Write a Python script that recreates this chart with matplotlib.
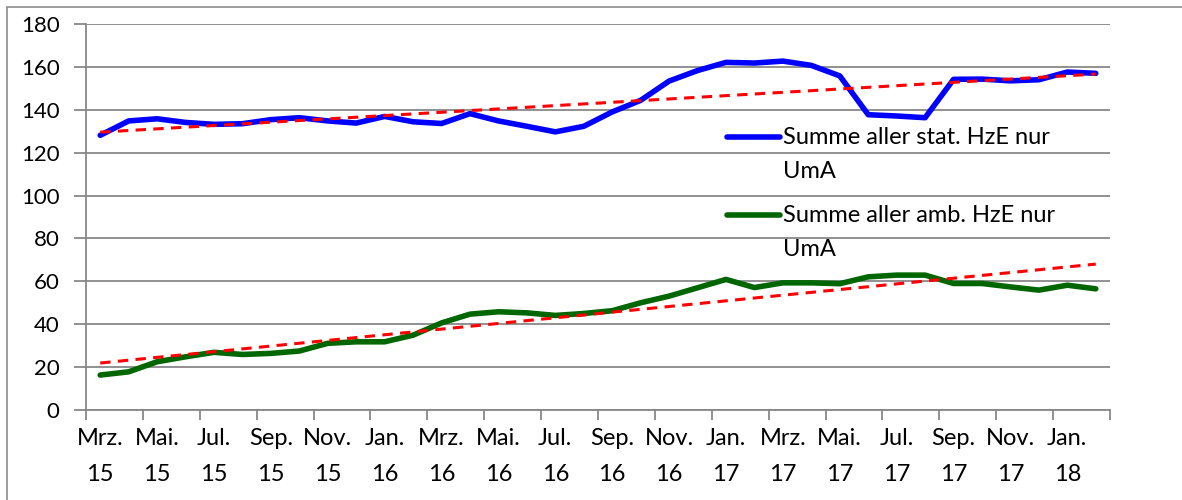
import matplotlib
matplotlib.use("Agg")
import matplotlib.pyplot as plt
import numpy as np
from matplotlib.patches import Rectangle
from matplotlib.lines import Line2D

plt.rcParams['font.family'] = ['Lato', 'DejaVu Sans']

# monthly values Mrz. 15 .. Feb. 18
stat = [128.1, 134.8, 135.8, 134.1, 133.2, 133.5, 135.4, 136.3, 134.8, 133.8,
        136.9, 134.4, 133.6, 138.2, 134.8, 132.3, 129.7, 132.3, 139.0, 144.4,
        153.4, 158.3, 162.1, 161.8, 162.7, 160.7, 155.8, 137.7, 137.1, 136.3,
        154.2, 154.3, 153.5, 154.0, 157.6, 157.0]
amb = [16.3, 17.8, 22.5, 24.8, 26.9, 25.9, 26.4, 27.5, 31.1, 31.8,
       31.8, 34.9, 40.6, 44.7, 45.8, 45.3, 44.1, 45.0, 46.3, 50.0,
       53.1, 57.0, 60.9, 57.1, 59.3, 59.3, 58.9, 62.1, 62.9, 62.9,
       59.0, 59.0, 57.4, 55.9, 58.2, 56.5]
tick_labels = ["Mrz.\n15", "Mai.\n15", "Jul.\n15", "Sep.\n15", "Nov.\n15", "Jan.\n16",
               "Mrz.\n16", "Mai.\n16", "Jul.\n16", "Sep.\n16", "Nov.\n16", "Jan.\n17",
               "Mrz.\n17", "Mai.\n17", "Jul.\n17", "Sep.\n17", "Nov.\n17", "Jan.\n18"]
label_stat = "Summe aller stat. HzE nur\nUmA"
label_amb = "Summe aller amb. HzE nur\nUmA"

blue = '#0000FF'
green = '#006600'
grid_c = '#888888'

x = np.arange(len(stat))

fig = plt.figure(figsize=(11.82, 5.0), dpi=100)
ax = fig.add_axes([86/1182, 1-410/500, 1024/1182, 386/500])

# outer chart frame
fig.patches.append(Rectangle((7/1182, -0.1), 1.2, 1.1-7/500, transform=fig.transFigure,
                             fill=False, edgecolor='#8c8c8c', lw=1.2))

ax.plot(x, stat, color=blue, lw=4.0, solid_joinstyle='round', solid_capstyle='round', zorder=3)
ax.plot(x, amb, color=green, lw=4.0, solid_joinstyle='round', solid_capstyle='round', zorder=3)

# linear trendlines
for s in (stat, amb):
    k, d = np.polyfit(x, s, 1)
    ax.plot(x, k*x + d, color='#FF0000', lw=2.2, dashes=(3.4, 2.4), zorder=4)

ax.set_xlim(-0.5, len(stat)-0.5)
ax.set_ylim(0, 180)
ax.set_yticks(np.arange(0, 181, 20))
ax.yaxis.grid(True, color=grid_c, lw=1.3)
ax.set_axisbelow(True)

ax.set_xticks(np.arange(0, len(stat), 2))
ax.set_xticklabels(tick_labels, linespacing=1.85)
ax.set_xticks(np.arange(-0.5, len(stat), 2), minor=True)
ax.tick_params(axis='x', which='major', length=0, pad=13, labelsize=17)
ax.tick_params(axis='x', which='minor', length=7, width=1.3, color=grid_c)
ax.tick_params(axis='y', length=9, width=1.3, color=grid_c, pad=10, labelsize=16)

for sp in ('top', 'right'):
    ax.spines[sp].set_visible(False)
for sp in ('left', 'bottom'):
    ax.spines[sp].set_color(grid_c)
    ax.spines[sp].set_linewidth(1.3)

# legend (drawn inside plot, handle next to first text line)
for yl, col, lab in ((0.707, blue, label_stat), (0.505, green, label_amb)):
    ax.add_line(Line2D([0.626, 0.678], [yl, yl], transform=ax.transAxes, color=col,
                       lw=4.0, solid_capstyle='round', zorder=5))
    l1, l2 = lab.split("\n")
    ax.text(0.681, yl, l1, transform=ax.transAxes, va='center', ha='left', fontsize=17)
    ax.text(0.681, yl-0.088, l2, transform=ax.transAxes, va='center', ha='left', fontsize=17)

fig.savefig("out.png", dpi=100)
